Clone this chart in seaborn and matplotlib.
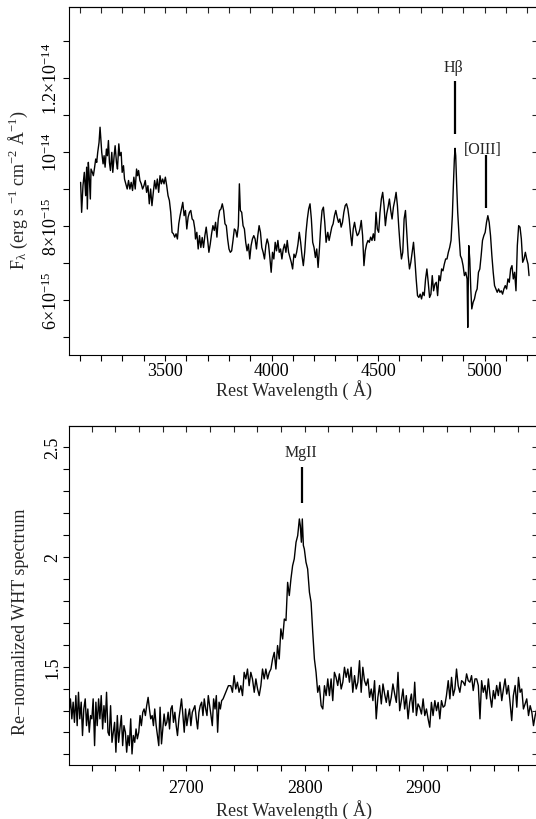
import numpy as np
import pandas as pd
import matplotlib
matplotlib.use("Agg")
import matplotlib.pyplot as plt
import seaborn as sns
from matplotlib.ticker import FixedLocator, NullFormatter

# ---------------- data: top panel (flux in units of 1e-15 erg/s/cm2/A) -------------
wave_top_a = [
    3103.6, 3108.3, 3114.6, 3120.9, 3127.2, 3131.9, 3135.1, 3139.8, 3144.5, 3149.2,
    3152.4, 3158.7, 3163.4, 3168.1, 3174.4, 3179.1, 3183.8, 3190.1, 3194.8, 3199.5,
    3202.7, 3209.0, 3213.7, 3218.4, 3224.7, 3229.4, 3234.1, 3238.8, 3243.6, 3249.9,
    3254.6, 3260.9, 3265.6, 3271.9, 3276.6, 3282.9, 3287.6, 3293.9, 3298.6, 3304.9,
    3309.6, 3315.9, 3322.2, 3328.5, 3334.8, 3341.0, 3347.3, 3353.6, 3359.9, 3366.2,
    3370.9, 3375.6, 3381.9, 3388.2, 3394.5, 3400.8, 3407.1, 3413.4, 3419.7, 3426.0,
    3432.2, 3438.5, 3444.8, 3451.1, 3457.4, 3463.7, 3470.0, 3476.3, 3482.5, 3488.8,
    3495.1, 3501.4, 3507.7, 3514.0, 3520.3, 3526.6, 3532.9, 3539.2, 3545.4, 3551.7,
    3558.0, 3564.3, 3570.6, 3576.9, 3583.2, 3589.5, 3595.8, 3602.1, 3608.3, 3614.6,
    3620.9, 3627.2, 3633.5, 3639.8]
flux_top_a = [
    9.17, 8.36, 9.08, 9.44, 8.81, 9.58, 8.45, 9.71, 9.26, 8.72,
    9.53, 9.44, 9.35, 9.53, 9.80, 9.71, 9.98, 10.25, 10.66, 10.25,
    9.98, 9.67, 9.89, 9.58, 10.07, 9.89, 10.30, 9.71, 9.49, 9.98,
    9.44, 9.89, 10.16, 9.71, 9.53, 10.21, 9.89, 9.98, 9.44, 9.62,
    9.26, 9.13, 8.99, 9.22, 8.99, 9.17, 8.95, 9.31, 8.99, 9.53,
    9.35, 9.49, 9.22, 9.13, 8.99, 9.08, 9.22, 8.90, 9.08, 8.59,
    8.99, 8.54, 8.90, 9.22, 8.99, 9.26, 8.90, 9.35, 9.13, 9.26,
    9.13, 9.31, 9.08, 8.81, 8.68, 8.36, 7.82, 7.78, 7.69, 7.78,
    7.64, 8.05, 8.27, 8.45, 8.63, 8.27, 8.41, 7.91, 8.23, 8.36,
    8.41, 8.18, 8.14, 7.91]

wave_top_b = [
    3642.9, 3649.2, 3655.5, 3661.8, 3668.1, 3674.3, 3680.6, 3686.9, 3693.2, 3699.5,
    3705.8, 3712.1, 3718.4, 3724.7, 3731.0, 3737.2, 3743.5, 3749.8, 3756.1, 3762.4,
    3768.7, 3775.0, 3781.3, 3787.6, 3793.8, 3800.1, 3806.4, 3812.7, 3819.0, 3825.3,
    3831.6, 3837.9, 3844.2, 3848.9, 3853.6, 3859.9, 3866.2, 3872.5, 3878.7, 3885.0,
    3891.3, 3897.6, 3903.9, 3910.2, 3916.5, 3922.8, 3929.1, 3935.4, 3941.6, 3947.9,
    3954.2, 3960.5, 3966.8, 3973.1, 3979.4, 3985.7, 3992.0, 3998.2, 4004.5, 4010.8,
    4017.1, 4023.4, 4029.7, 4036.0, 4042.3, 4048.6, 4054.9, 4061.1, 4067.4, 4073.7,
    4080.0, 4086.3, 4092.6, 4098.9, 4105.2, 4111.4, 4117.7, 4124.0, 4130.3, 4136.6,
    4142.9, 4149.2, 4155.5, 4161.8, 4168.0, 4174.3, 4180.6, 4186.9, 4193.2, 4199.5,
    4205.8, 4212.1, 4218.5, 4224.7, 4231.0, 4237.2, 4243.5, 4249.8, 4256.1]
flux_top_b = [
    7.64, 7.82, 7.37, 7.73, 7.41, 7.68, 7.41, 7.73, 7.96, 7.64,
    7.28, 7.50, 7.78, 8.00, 7.87, 8.09, 7.69, 8.18, 8.41, 8.45,
    8.59, 8.41, 8.05, 8.00, 7.64, 7.37, 7.28, 7.32, 7.60, 7.91,
    7.87, 7.69, 8.00, 9.13, 8.41, 8.36, 8.00, 7.91, 7.55, 7.32,
    7.50, 7.10, 7.46, 7.64, 7.73, 7.64, 7.37, 7.73, 8.00, 7.82,
    7.41, 7.28, 7.10, 7.46, 7.64, 7.50, 7.14, 6.74, 7.28, 7.10,
    7.55, 7.32, 7.60, 7.28, 7.37, 7.10, 7.37, 7.50, 7.28, 7.60,
    7.28, 7.14, 7.01, 6.83, 7.23, 7.14, 7.28, 7.50, 7.82, 7.55,
    7.19, 6.92, 7.28, 7.82, 8.18, 8.45, 8.59, 8.18, 7.55, 7.41,
    7.14, 7.37, 6.87, 7.37, 8.00, 8.41, 8.50, 8.09, 7.55]

wave_top_c = [
    4264.0, 4270.2, 4276.5, 4282.8, 4289.1, 4295.4, 4301.7, 4308.0, 4314.3, 4320.5,
    4326.8, 4333.1, 4339.4, 4345.7, 4352.0, 4358.3, 4364.6, 4370.9, 4377.2, 4383.4,
    4389.7, 4396.0, 4402.3, 4408.6, 4414.9, 4421.2, 4427.5, 4433.8, 4440.0, 4446.3,
    4452.6, 4458.9, 4465.2, 4471.5, 4477.8, 4484.1, 4490.4, 4496.6, 4502.9, 4509.2,
    4515.5, 4521.8, 4528.1, 4534.4, 4540.7, 4547.0, 4553.3, 4559.5, 4565.8, 4572.1,
    4578.4, 4584.7, 4591.0, 4597.3, 4603.6, 4609.9, 4616.1, 4622.4, 4628.7, 4635.0,
    4641.3, 4647.6, 4653.9, 4660.2, 4666.5, 4672.7, 4679.0, 4685.3, 4691.6, 4697.9,
    4704.2, 4710.5, 4716.8, 4723.1, 4729.3, 4735.6, 4741.9, 4748.2, 4754.5, 4760.8,
    4767.1, 4773.4, 4779.7, 4786.0, 4792.2, 4798.5, 4804.8, 4811.1, 4817.4]
flux_top_c = [
    7.82, 7.60, 7.78, 7.96, 8.05, 8.27, 8.41, 8.23, 8.09, 8.18,
    7.96, 8.09, 8.36, 8.54, 8.59, 8.45, 8.18, 7.78, 7.46, 7.91,
    8.09, 7.87, 7.73, 7.78, 7.91, 8.14, 7.73, 6.92, 7.32, 7.50,
    7.60, 7.55, 7.69, 7.60, 7.78, 7.60, 8.36, 7.91, 7.82, 8.36,
    8.72, 8.90, 8.54, 8.00, 8.32, 8.50, 8.72, 8.41, 8.18, 8.50,
    8.68, 8.90, 8.54, 7.96, 7.46, 7.10, 7.28, 8.18, 8.41, 7.82,
    7.19, 6.83, 7.01, 7.28, 7.55, 7.10, 6.56, 6.11, 6.06, 6.15,
    6.02, 6.20, 6.11, 6.56, 6.83, 6.47, 6.06, 6.15, 6.65, 6.24,
    6.42, 6.47, 6.11, 6.65, 6.51, 6.83, 6.78, 6.96, 7.10]

wave_top_d = [
    4823.7, 4830.0, 4836.3, 4842.6, 4848.9, 4853.6, 4858.3, 4861.5, 4864.6, 4869.3,
    4874.0, 4880.3, 4886.6, 4892.9, 4899.2, 4905.5, 4911.8, 4918.1, 4921.2, 4925.9,
    4930.6, 4935.4, 4940.1, 4946.4, 4952.7, 4959.0, 4965.2, 4971.5, 4977.8, 4984.1,
    4990.4, 4996.7, 5003.0, 5009.3, 5015.5, 5021.8, 5028.1, 5034.4, 5040.7, 5047.0,
    5053.3, 5059.6, 5065.9, 5072.2, 5078.4, 5084.7, 5091.0, 5097.3, 5103.6, 5109.9,
    5116.2, 5122.5, 5128.8, 5135.0, 5141.3, 5147.6, 5153.9, 5160.2, 5166.5, 5172.8,
    5179.1, 5185.4, 5191.6, 5197.9, 5204.2, 5208.9]
flux_top_d = [
    7.10, 7.28, 7.41, 7.60, 8.27, 9.08, 9.80, 10.09, 9.89, 9.08,
    8.36, 7.73, 7.19, 7.10, 6.92, 6.65, 6.74, 6.56, 5.25, 7.46,
    7.10, 6.29, 5.75, 5.93, 6.02, 6.20, 6.29, 6.74, 6.83, 7.19,
    7.60, 7.73, 7.82, 8.09, 8.27, 8.09, 7.73, 7.19, 6.74, 6.38,
    6.29, 6.20, 6.29, 6.20, 6.24, 6.15, 6.29, 6.38, 6.29, 6.56,
    6.47, 6.83, 6.92, 6.56, 6.74, 6.24, 7.46, 8.00, 7.96, 7.64,
    7.01, 7.10, 7.28, 7.10, 6.96, 6.65]

flux_unit = 1e-15

# ---------------- data: bottom panel (re-normalized WHT spectrum) -------------
wave_bot_a = [
    2601.1, 2602.2, 2603.4, 2604.5, 2605.6, 2606.8, 2607.9, 2609.0, 2610.1, 2611.3,
    2612.4, 2613.5, 2614.7, 2615.8, 2616.9, 2618.1, 2619.2, 2620.3, 2621.4, 2622.6,
    2623.7, 2624.8, 2626.0, 2627.1, 2628.2, 2629.4, 2630.5, 2631.6, 2632.7, 2633.9,
    2635.0, 2636.1, 2637.3, 2638.4, 2639.5, 2640.6, 2641.8, 2642.9, 2644.0, 2645.2,
    2646.3, 2647.4, 2648.6, 2649.7, 2650.8, 2651.9, 2653.1, 2654.2, 2655.3, 2656.5,
    2657.6, 2658.7, 2659.9, 2661.0, 2662.1, 2663.3, 2664.4, 2665.5, 2666.6, 2667.8,
    2668.9, 2670.0, 2671.2, 2672.3, 2673.4, 2674.6, 2675.7, 2676.8, 2677.9, 2679.1,
    2680.2, 2681.3, 2682.5, 2683.6, 2684.7, 2685.9, 2687.0, 2688.1, 2689.2, 2690.4,
    2691.5, 2692.6, 2693.8, 2694.9, 2696.0, 2697.2, 2698.3, 2699.4, 2700.5, 2701.7,
    2702.8, 2703.9, 2705.1, 2706.2, 2707.3, 2708.5, 2709.6, 2710.7, 2711.8, 2713.0,
    2714.1, 2715.2, 2716.4, 2717.5, 2718.6, 2719.8, 2720.9, 2722.0, 2723.1, 2724.3,
    2725.4, 2726.5, 2727.7, 2728.8, 2729.9, 2731.1, 2732.2, 2733.3, 2734.4, 2735.6]
norm_bot_a = [
    1.292, 1.353, 1.262, 1.338, 1.246, 1.368, 1.231, 1.383, 1.262, 1.338,
    1.186, 1.307, 1.353, 1.231, 1.307, 1.201, 1.277, 1.262, 1.353, 1.140,
    1.338, 1.231, 1.353, 1.262, 1.368, 1.216, 1.322, 1.246, 1.383, 1.201,
    1.186, 1.322, 1.155, 1.201, 1.246, 1.110, 1.277, 1.155, 1.216, 1.277,
    1.140, 1.231, 1.201, 1.110, 1.186, 1.140, 1.262, 1.102, 1.186, 1.155,
    1.216, 1.171, 1.201, 1.277, 1.231, 1.292, 1.307, 1.277, 1.322, 1.360,
    1.307, 1.262, 1.277, 1.231, 1.307, 1.231, 1.186, 1.140, 1.315, 1.148,
    1.216, 1.284, 1.231, 1.246, 1.292, 1.216, 1.307, 1.322, 1.246, 1.292,
    1.231, 1.186, 1.262, 1.307, 1.353, 1.277, 1.201, 1.307, 1.231, 1.277,
    1.307, 1.231, 1.292, 1.307, 1.322, 1.262, 1.216, 1.292, 1.322, 1.338,
    1.277, 1.353, 1.307, 1.277, 1.368, 1.322, 1.277, 1.231, 1.353, 1.307,
    1.368, 1.201, 1.338, 1.307, 1.345, 1.353, 1.368, 1.383, 1.398, 1.413]

wave_bot_b = [
    2737.6, 2739.0, 2740.4, 2741.8, 2743.2, 2744.6, 2746.1, 2747.5, 2748.9, 2750.3,
    2751.7, 2753.1, 2754.5, 2755.9, 2757.4, 2758.8, 2760.2, 2761.6, 2763.0, 2764.4,
    2765.8, 2767.2, 2768.7, 2770.1, 2771.5, 2772.9, 2774.3, 2775.7, 2777.1, 2778.5,
    2779.9, 2781.4, 2782.8, 2784.2, 2785.6, 2787.0, 2788.4, 2789.8, 2791.2, 2792.7,
    2794.1, 2795.5, 2796.3, 2797.2, 2798.0, 2798.9, 2799.7, 2801.1, 2802.5, 2804.0,
    2805.4, 2806.8, 2808.2, 2809.6, 2811.0, 2812.4, 2813.9, 2815.3, 2816.7, 2818.1,
    2819.5, 2820.9, 2822.3]
norm_bot_b = [
    1.413, 1.383, 1.459, 1.398, 1.429, 1.383, 1.413, 1.368, 1.474, 1.444,
    1.489, 1.413, 1.474, 1.444, 1.383, 1.444, 1.398, 1.368, 1.413, 1.489,
    1.444, 1.489, 1.444, 1.474, 1.489, 1.535, 1.565, 1.489, 1.596, 1.535,
    1.672, 1.626, 1.717, 1.710, 1.884, 1.824, 1.900, 1.960, 1.991, 2.067,
    2.097, 2.173, 2.143, 2.067, 2.173, 2.052, 2.036, 1.976, 1.945, 1.839,
    1.793, 1.657, 1.535, 1.474, 1.383, 1.413, 1.322, 1.307, 1.413, 1.368,
    1.444, 1.368, 1.444]

wave_bot_c = [
    2823.7, 2825.1, 2826.5, 2827.9, 2829.3, 2830.8, 2832.2, 2833.6, 2835.0, 2836.4,
    2837.8, 2839.2, 2840.6, 2842.1, 2843.5, 2844.9, 2846.3, 2847.7, 2849.1, 2850.5,
    2851.9, 2853.4, 2854.8, 2856.2, 2857.6, 2859.0, 2860.4, 2861.8, 2863.2, 2864.7,
    2866.1, 2867.5, 2868.9, 2870.3, 2871.7, 2873.1, 2874.5, 2876.0, 2877.4, 2878.8,
    2880.2, 2881.6, 2883.0, 2884.4, 2885.8, 2887.3, 2888.7, 2890.1, 2891.5, 2892.9,
    2894.3, 2895.7, 2897.1, 2898.6, 2900.0, 2901.4, 2902.8, 2904.2, 2905.6, 2907.0,
    2908.4, 2909.9, 2911.3, 2912.7, 2914.1, 2915.5, 2916.9, 2918.3, 2919.7, 2921.2,
    2922.6, 2924.0, 2925.4, 2926.8, 2928.2, 2929.6, 2931.0, 2932.5, 2933.9, 2935.3,
    2936.7, 2938.1, 2939.5, 2940.9, 2942.3, 2943.8, 2945.2, 2946.6, 2948.0, 2949.4,
    2950.8, 2952.2, 2953.6, 2955.1, 2956.5, 2957.9, 2959.3, 2960.7, 2962.1, 2963.5,
    2964.9, 2966.4, 2967.8, 2969.2, 2970.6, 2972.0, 2973.4, 2974.8, 2976.2, 2977.7,
    2979.1, 2980.5, 2981.9, 2983.3, 2984.7, 2986.1, 2987.5, 2989.0, 2990.4, 2991.8,
    2993.2, 2994.6, 2996.0]
norm_bot_c = [
    1.345, 1.474, 1.451, 1.414, 1.467, 1.398, 1.429, 1.497, 1.451, 1.489,
    1.429, 1.497, 1.383, 1.459, 1.398, 1.429, 1.527, 1.383, 1.497, 1.436,
    1.414, 1.444, 1.360, 1.398, 1.345, 1.436, 1.262, 1.360, 1.414, 1.330,
    1.421, 1.375, 1.337, 1.391, 1.322, 1.360, 1.421, 1.375, 1.337, 1.474,
    1.299, 1.345, 1.398, 1.307, 1.368, 1.262, 1.337, 1.375, 1.292, 1.429,
    1.277, 1.330, 1.315, 1.284, 1.353, 1.277, 1.307, 1.262, 1.224, 1.337,
    1.277, 1.345, 1.299, 1.337, 1.262, 1.345, 1.315, 1.322, 1.368, 1.436,
    1.353, 1.451, 1.368, 1.398, 1.489, 1.414, 1.383, 1.436, 1.429, 1.414,
    1.467, 1.436, 1.429, 1.459, 1.391, 1.444, 1.444, 1.414, 1.262, 1.436,
    1.383, 1.414, 1.353, 1.444, 1.368, 1.315, 1.391, 1.353, 1.414, 1.368,
    1.429, 1.345, 1.398, 1.444, 1.375, 1.414, 1.337, 1.254, 1.368, 1.414,
    1.315, 1.451, 1.383, 1.398, 1.307, 1.330, 1.353, 1.277, 1.322, 1.292,
    1.231, 1.277, 1.307]

# emission line markers
top_lines = ["H\u03b2", "[OIII]"]
top_line_wave = [4860.0, 5005.0]
top_line_lo = [10.48, 8.47]
top_line_hi = [11.92, 9.91]
top_label_wave = [4855.0, 4992.0]
top_label_y = [12.30, 10.08]

bot_lines = ["MgII"]
bot_line_wave = [2798.0]
bot_line_lo = [2.246]
bot_line_hi = [2.409]
bot_label_wave = [2797.0]
bot_label_y = [2.478]

# tick labels
top_ytick_vals = [6, 8, 10, 12]
top_ytick_labels = [r"6$\times$10$^{-15}$", r"8$\times$10$^{-15}$",
                    r"10$^{-14}$", r"1.2$\times$10$^{-14}$"]
bot_ytick_vals = [1.5, 2.0, 2.5]
bot_ytick_labels = ["1.5", "2", "2.5"]

xlabel_text = "Rest Wavelength ( Å)"
top_ylabel_text = r"F$_{\lambda}$ (erg s $^{-1}$ cm$^{-2}$ Å$^{-1}$)"
bot_ylabel_text = "Re\u2212normalized WHT spectrum"

# ---------------------------------------------------------------------------
sns.set_theme(style="ticks")
plt.rcParams["font.family"] = ["Liberation Serif", "DejaVu Serif"]
plt.rcParams["mathtext.fontset"] = "custom"
plt.rcParams["mathtext.rm"] = "Liberation Serif"
plt.rcParams["mathtext.it"] = "Liberation Serif:italic"
plt.rcParams["mathtext.default"] = "regular"
plt.rcParams["axes.linewidth"] = 0.8
plt.rcParams["axes.edgecolor"] = "black"

top_df = pd.DataFrame({
    "wave": wave_top_a + wave_top_b + wave_top_c + wave_top_d,
    "flux": np.array(flux_top_a + flux_top_b + flux_top_c + flux_top_d) * flux_unit,
})
bot_df = pd.DataFrame({
    "wave": wave_bot_a + wave_bot_b + wave_bot_c,
    "norm": norm_bot_a + norm_bot_b + norm_bot_c,
})

W, H = 536, 820
fig = plt.figure(figsize=(W / 100, H / 100), dpi=100)
ax1 = fig.add_axes([69 / W, 1 - 356 / H, (538 - 69) / W, (356 - 8.3) / H])
ax2 = fig.add_axes([69 / W, 1 - 765.7 / H, (538 - 69) / W, (765.7 - 426.7) / H])

FS = 13
TL = 4.0  # tick length in points


def mirror_ticks(ax, xmaj, xmin, ymaj, ymin):
    sx = ax.secondary_xaxis("top")
    sx.xaxis.set_major_locator(FixedLocator(xmaj))
    sx.xaxis.set_minor_locator(FixedLocator(xmin))
    sx.xaxis.set_major_formatter(NullFormatter())
    sx.tick_params(which="both", direction="in", length=TL, width=0.8, labeltop=False)
    sy = ax.secondary_yaxis("right")
    sy.yaxis.set_major_locator(FixedLocator(ymaj))
    sy.yaxis.set_minor_locator(FixedLocator(ymin))
    sy.yaxis.set_major_formatter(NullFormatter())
    sy.tick_params(which="both", direction="in", length=TL, width=0.8, labelright=False)


# ---------------- top panel ----------------
sns.lineplot(data=top_df, x="wave", y="flux", ax=ax1, color="black",
             linewidth=1.0, estimator=None, sort=False)
ax1.set_xlim(3049, 5251)
ax1.set_ylim(4.505e-15, 13.90e-15)
x1maj = [3500, 4000, 4500, 5000]
x1min = [v for v in range(3100, 5201, 100) if v not in x1maj]
y1maj = [v * flux_unit for v in top_ytick_vals]
y1min = [v * flux_unit for v in (5, 7, 9, 11, 13)]
ax1.xaxis.set_major_locator(FixedLocator(x1maj))
ax1.xaxis.set_minor_locator(FixedLocator(x1min))
ax1.yaxis.set_major_locator(FixedLocator(y1maj))
ax1.yaxis.set_minor_locator(FixedLocator(y1min))
ax1.set_xticklabels([str(v) for v in x1maj], fontsize=FS)
ax1.set_yticklabels(top_ytick_labels, fontsize=FS, rotation=90, va="center")
ax1.tick_params(which="both", direction="out", length=TL, width=0.8,
                top=False, right=False, colors="black")
ax1.tick_params(axis="x", which="both", pad=1.0)
ax1.tick_params(axis="y", which="both", pad=1.5)
mirror_ticks(ax1, x1maj, x1min, y1maj, y1min)

ax1.set_xlabel(xlabel_text, fontsize=FS)
ax1.xaxis.set_label_coords(0.48, -0.070)
ax1.set_ylabel(top_ylabel_text, fontsize=FS)
ax1.yaxis.set_label_coords(-0.083, 0.477)

for name, xw, lo, hi, lx, ly in zip(top_lines, top_line_wave, top_line_lo,
                                     top_line_hi, top_label_wave, top_label_y):
    ax1.plot([xw, xw], [lo * flux_unit, hi * flux_unit], color="black", lw=1.6,
             solid_capstyle="butt")
    ax1.text(lx, ly * flux_unit, name, ha="center", va="center", fontsize=11.5)

# ---------------- bottom panel ----------------
sns.lineplot(data=bot_df, x="wave", y="norm", ax=ax2, color="black",
             linewidth=1.0, estimator=None, sort=False)
ax2.set_xlim(2601, 2997)
ax2.set_ylim(1.053, 2.598)
x2maj = [2700, 2800, 2900]
x2min = [v for v in range(2620, 2981, 20) if v not in x2maj]
y2min = [round(1.1 + 0.1 * i, 1) for i in range(15)]
y2min = [v for v in y2min if v not in bot_ytick_vals]
ax2.xaxis.set_major_locator(FixedLocator(x2maj))
ax2.xaxis.set_minor_locator(FixedLocator(x2min))
ax2.yaxis.set_major_locator(FixedLocator(bot_ytick_vals))
ax2.yaxis.set_minor_locator(FixedLocator(y2min))
ax2.set_xticklabels([str(v) for v in x2maj], fontsize=FS)
ax2.set_yticklabels(bot_ytick_labels, fontsize=FS, rotation=90, va="center")
ax2.tick_params(which="both", direction="out", length=TL, width=0.8,
                top=False, right=False, colors="black")
ax2.tick_params(axis="x", which="both", pad=6)
ax2.tick_params(axis="y", which="both", pad=1.5)
mirror_ticks(ax2, x2maj, x2min, bot_ytick_vals, y2min)

ax2.set_xlabel(xlabel_text, fontsize=FS)
ax2.xaxis.set_label_coords(0.48, -0.100)
ax2.set_ylabel(bot_ylabel_text, fontsize=FS)
ax2.yaxis.set_label_coords(-0.085, 0.424)

for name, xw, lo, hi, lx, ly in zip(bot_lines, bot_line_wave, bot_line_lo,
                                     bot_line_hi, bot_label_wave, bot_label_y):
    ax2.plot([xw, xw], [lo, hi], color="black", lw=1.6, solid_capstyle="butt")
    ax2.text(lx, ly, name, ha="center", va="center", fontsize=11.5)

fig.savefig("out.png", dpi=100)
